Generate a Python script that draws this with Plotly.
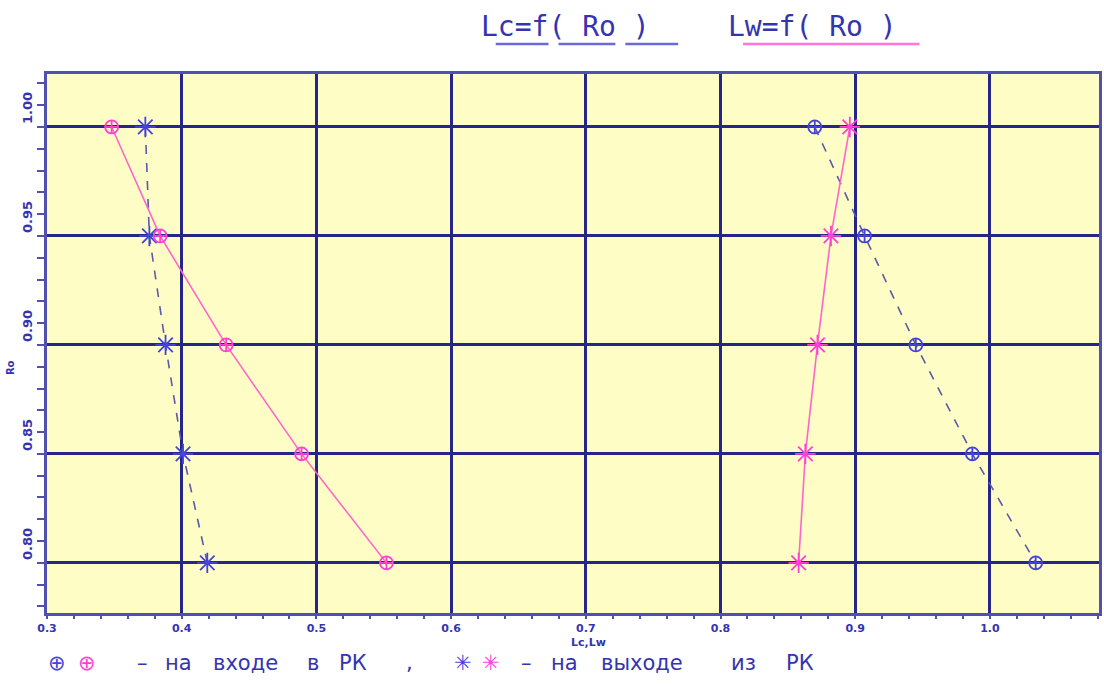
import plotly.graph_objects as go

# ---- data ----
ro = [1.00, 0.95, 0.90, 0.85, 0.80]
lc_in = [0.870, 0.907, 0.945, 0.987, 1.034]    # blue, circle-plus
lc_out = [0.373, 0.376, 0.388, 0.401, 0.419]   # blue, asterisk
lw_in = [0.348, 0.384, 0.433, 0.489, 0.552]    # pink, circle-plus
lw_out = [0.896, 0.882, 0.872, 0.863, 0.858]   # pink, asterisk

title_lc = "Lc=f( Ro )"
title_lw = "Lw=f( Ro )"
x_title = "Lc,Lw"
y_title = "Ro"

BLUE_M = "#4444DD"
BLUE_L = "#5A5AA8"
PINK_M = "#FF3FD8"
PINK_L = "#FF66CC"
TXT = "#3434B0"
GRID = "#26268A"

W, H = 1104, 686
ML, MR, MT, MB = 47, 2, 74, 73
PW, PH = W - ML - MR, H - MT - MB


def px(x):
    return (x - ML) / PW


def py(y):
    return (H - MB - y) / PH


fig = go.Figure()


def add(xs, color_l, color_m, symbol, size, dash):
    fig.add_trace(go.Scatter(
        x=xs, y=ro, mode="lines+markers",
        line=dict(color=color_l, width=1.6, dash=dash),
        marker=dict(symbol=symbol, size=size, color=color_m,
                    line=dict(color=color_m, width=1.8)),
        showlegend=False, hoverinfo="skip"))


add(lc_in, BLUE_L, BLUE_M, "circle-cross-open", 13, "dash")
add(lc_out, BLUE_L, BLUE_M, "asterisk-open", 17, "dash")
add(lw_in, PINK_L, PINK_M, "circle-cross-open", 13, "solid")
add(lw_out, PINK_L, PINK_M, "asterisk-open", 17, "solid")

annotations = [
    dict(text=title_lc, x=px(480), y=py(26), xanchor="left", yanchor="middle",
         font=dict(family="DejaVu Sans Mono", size=28, color=TXT)),
    dict(text=title_lw, x=px(728), y=py(26), xanchor="left", yanchor="middle",
         font=dict(family="DejaVu Sans Mono", size=28, color=TXT)),
    dict(text=x_title, x=px(590), y=py(642), xanchor="center", yanchor="middle",
         font=dict(family="DejaVu Sans", size=11, color=TXT, weight="bold")),
    dict(text=y_title, x=px(10), y=py(368), xanchor="center", yanchor="middle",
         textangle=-90, font=dict(family="DejaVu Sans", size=10, color=TXT,
                                  weight="bold")),
]

leg_font = dict(family="DejaVu Sans", size=21, color=TXT)
legend_items = [
    ("⊕", 46, BLUE_M), ("⊕", 76, PINK_M),
    ("–", 135, TXT), ("на", 163, TXT), ("входе", 211, TXT), ("в", 306, TXT),
    ("РК", 338, TXT), (",", 405, TXT),
    ("✳", 453, BLUE_M), ("✳", 481, PINK_M),
    ("–", 520, TXT), ("на", 550, TXT), ("выходе", 601, TXT), ("из", 731, TXT),
    ("РК", 786, TXT),
]
for t, x, c in legend_items:
    f = dict(leg_font)
    f["color"] = c
    annotations.append(dict(text=t, x=px(x), y=py(663), xanchor="left",
                            yanchor="middle", font=f))

for a in annotations:
    a.update(xref="paper", yref="paper", showarrow=False)

shapes = []
for x0, x1, c in [(497, 550, "#6A6AD8"), (560, 617, "#6A6AD8"),
                  (627, 680, "#6A6AD8"), (745, 922, "#FF77DD")]:
    shapes.append(dict(type="line", xref="paper", yref="paper",
                       x0=px(x0), x1=px(x1), y0=py(44), y1=py(44),
                       line=dict(color=c, width=2.5)))

fig.update_layout(
    width=W, height=H,
    margin=dict(l=ML, r=MR, t=MT, b=MB),
    paper_bgcolor="white",
    plot_bgcolor="#FFFDC6",
    annotations=annotations,
    shapes=shapes,
    showlegend=False,
)

fig.update_xaxes(
    range=[0.3, 1.081], tick0=0.3, dtick=0.1, tickformat=".1f",
    showgrid=True, gridcolor=GRID, gridwidth=2.5,
    showline=True, linecolor="#5050B0", linewidth=3, mirror=True,
    ticks="outside", ticklen=3, tickcolor="#5050B0", tickwidth=2,
    minor=dict(dtick=0.02, ticks="outside", ticklen=3, tickcolor="#5050B0",
               tickwidth=2, showgrid=False),
    ticklabelstandoff=0,
    tickfont=dict(family="DejaVu Sans", size=11, color=TXT, weight="bold"),
    zeroline=False,
)
fig.update_yaxes(
    range=[0.777, 1.0243], tick0=0.8, dtick=0.05, tickformat=".2f",
    showgrid=True, gridcolor=GRID, gridwidth=2.5,
    showline=True, linecolor="#5050B0", linewidth=3, mirror=True,
    ticks="outside", ticklen=7, tickcolor="#5050B0", tickwidth=2,
    minor=dict(dtick=0.01, ticks="outside", ticklen=7, tickcolor="#5050B0",
               tickwidth=2, showgrid=False),
    tickangle=-90, ticklabelshift=-17,
    tickfont=dict(family="DejaVu Sans", size=13, color=TXT, weight="bold"),
    zeroline=False,
)

fig.write_html("out.html")
